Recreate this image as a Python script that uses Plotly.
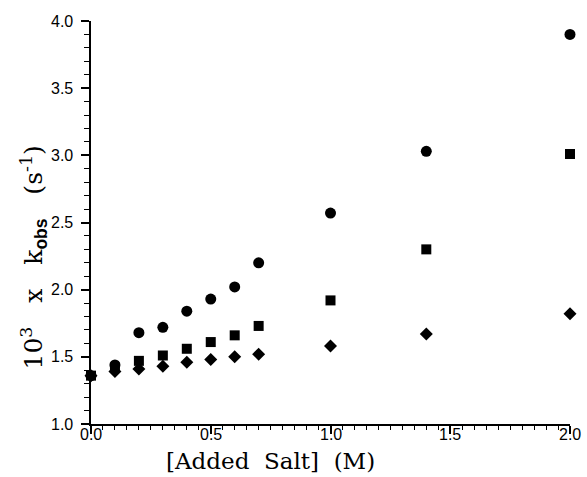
import plotly.graph_objects as go

salt = [0.0, 0.1, 0.2, 0.3, 0.4, 0.5, 0.6, 0.7, 1.0, 1.4, 2.0]
k_circle = [1.36, 1.44, 1.68, 1.72, 1.84, 1.93, 2.02, 2.20, 2.57, 3.03, 3.90]
k_square = [1.36, 1.42, 1.47, 1.51, 1.56, 1.61, 1.66, 1.73, 1.92, 2.30, 3.01]
k_diamond = [1.36, 1.39, 1.41, 1.43, 1.46, 1.48, 1.50, 1.52, 1.58, 1.67, 1.82]

x_ticks = [0.0, 0.5, 1.0, 1.5, 2.0]
x_ticklabels = ["0.0", "0.5", "1.0", "1.5", "2.0"]
y_ticks = [1.0, 1.5, 2.0, 2.5, 3.0, 3.5, 4.0]
y_ticklabels = ["1.0", "1.5", "2.0", "2.5", "3.0", "3.5", "4.0"]

fig = go.Figure()
for ys, sym, sz in [(k_diamond, "diamond", 10), (k_square, "square", 10), (k_circle, "circle", 11)]:
    fig.add_trace(go.Scatter(x=salt, y=ys, mode="markers", cliponaxis=False,
                             marker=dict(symbol=sym, size=sz, color="black", line=dict(width=0))))

serif = "DejaVu Serif"
tickfont = dict(family="Liberation Sans", size=16, color="black")

annotations = []
for v, t in zip(x_ticks, x_ticklabels):
    annotations.append(dict(text=t, xref="x", yref="paper", x=v, y=-0.027,
                            xanchor="center", yanchor="middle", showarrow=False, font=tickfont,
                            borderpad=0))
for v, t in zip(y_ticks, y_ticklabels):
    annotations.append(dict(text=t, xref="paper", yref="y", x=-0.036, y=v,
                            xanchor="right", yanchor="middle", showarrow=False, font=tickfont,
                            borderpad=0))

annotations += [
    dict(text="[Added&nbsp;&nbsp;Salt]&nbsp;&nbsp;(M)", xref="paper", yref="paper", x=0.375, y=-0.091,
         xanchor="center", yanchor="middle", showarrow=False, borderpad=0,
         font=dict(family=serif, size=23, color="black")),
    dict(text="10<sup>3</sup>&nbsp;&nbsp; x&nbsp;&nbsp; k<sub><span style='font-family:Liberation Sans;font-weight:bold'>obs</span></sub>&nbsp;&nbsp; (s<sup>-1</sup>)",
         xref="paper", yref="paper", x=-0.12, y=0.412, textangle=-90,
         xanchor="center", yanchor="middle", showarrow=False, borderpad=0,
         font=dict(family=serif, size=25, color="black")),
]

fig.update_layout(
    width=587, height=477,
    margin=dict(l=91, r=17, t=21, b=53, autoexpand=False),
    paper_bgcolor="white", plot_bgcolor="white",
    showlegend=False,
    font=dict(family="Liberation Sans", size=16, color="black"),
    xaxis=dict(range=[0, 2], tickvals=x_ticks, showticklabels=False,
               showgrid=False, zeroline=False, showline=True, linecolor="black", linewidth=1.5,
               ticks="outside", ticklen=8, tickwidth=1.5, tickcolor="black",
               minor=dict(dtick=0.05, ticks="outside", ticklen=4, tickwidth=1.2, tickcolor="black", showgrid=False)),
    yaxis=dict(range=[1, 4], tickvals=y_ticks, showticklabels=False,
               showgrid=False, zeroline=False, showline=True, linecolor="black", linewidth=1.5,
               ticks="outside", ticklen=8, tickwidth=1.5, tickcolor="black",
               minor=dict(dtick=0.1, ticks="outside", ticklen=5, tickwidth=1.2, tickcolor="black", showgrid=False)),
    annotations=annotations,
)

fig.write_html("out.html", config={"displayModeBar": False},
               post_script="document.body.style.margin='0';document.body.style.overflow='hidden';")
